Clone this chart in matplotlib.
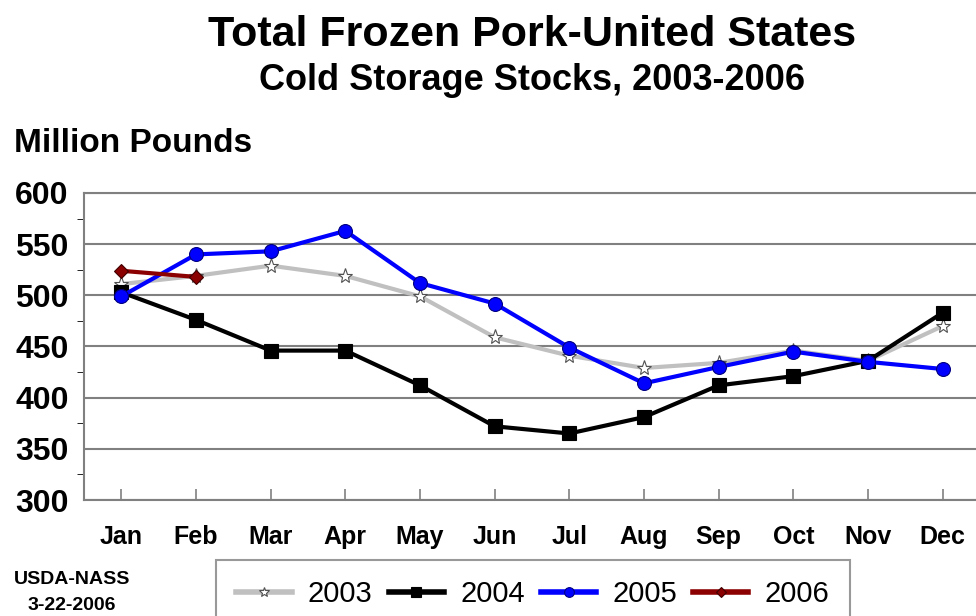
import matplotlib
matplotlib.use('Agg')
import matplotlib.pyplot as plt
from matplotlib.lines import Line2D
from matplotlib.ticker import MultipleLocator

plt.rcParams['font.family'] = ['Liberation Sans', 'DejaVu Sans']
plt.rcParams['font.weight'] = 'bold'

months = ['Jan', 'Feb', 'Mar', 'Apr', 'May', 'Jun', 'Jul', 'Aug', 'Sep', 'Oct', 'Nov', 'Dec']
y2003 = [511, 519, 529, 519, 499, 459, 441, 429, 434, 446, 436, 470]
y2004 = [503, 476, 446, 446, 412, 372, 365, 381, 412, 421, 436, 483]
y2005 = [499, 540, 543, 563, 512, 492, 449, 414, 430, 445, 435, 428]
y2006 = [524, 518]
years = ['2003', '2004', '2005', '2006']

# style per series: (line colour, marker, size, face, edge)
styles = [
    ('#c0c0c0', '*', 11, 'white', '#505050'),
    ('black', 's', 10, 'black', 'black'),
    ('#0000ff', 'o', 10, '#0000ff', '#000080'),
    ('#8b0000', 'D', 7, '#8b0000', '#400000'),
]

fig = plt.figure(figsize=(9.76, 6.16), dpi=100)
ax = fig.add_axes([84 / 976, 1 - 500 / 616, 896 / 976, 307 / 616])

x = list(range(len(months)))
for i, ys in enumerate([y2003, y2004, y2005, y2006]):
    c, m, ms, fc, ec = styles[i]
    ax.plot(x[:len(ys)], ys, color=c, lw=3, marker=m, ms=ms, mfc=fc, mec=ec, mew=0.8, zorder=3 + i)

ax.set_xlim(-0.5, 11.5)
ax.set_ylim(300, 600)
ax.yaxis.set_major_locator(MultipleLocator(50))
ax.yaxis.set_minor_locator(MultipleLocator(25))
ax.set_xticks(x)
ax.set_xticklabels(months)
ax.grid(axis='y', color='#808080', lw=1.5)
ax.set_axisbelow(True)
for s in ax.spines.values():
    s.set_color('#808080')
    s.set_linewidth(1.5)
ax.spines['right'].set_visible(False)
ax.tick_params(axis='both', direction='in', color='#808080', width=1.2)
ax.tick_params(axis='y', which='major', length=0, labelsize=23, pad=11)
ax.tick_params(axis='y', which='minor', length=5)
ax.tick_params(axis='x', length=8, labelsize=18, pad=18)

fig.text(532 / 976, 1 - 35 / 616, 'Total Frozen Pork-United States', ha='center', va='center', fontsize=31, fontweight='bold')
fig.text(532 / 976, 1 - 80 / 616, 'Cold Storage Stocks, 2003-2006', ha='center', va='center', fontsize=26, fontweight='bold')
fig.text(14 / 976, 1 - 144 / 616, 'Million Pounds', ha='left', va='center', fontsize=24, fontweight='bold')
fig.text(72 / 976, 1 - 580 / 616, 'USDA-NASS', ha='center', va='center', fontsize=14, fontweight='bold')
fig.text(72 / 976, 1 - 605 / 616, '3-22-2006', ha='center', va='center', fontsize=14, fontweight='bold')

handles = [Line2D([], [], color=c, lw=4, marker=m, ms=ms * 0.7, mfc=fc, mec=ec, mew=0.8)
           for c, m, ms, fc, ec in styles]
leg = fig.legend(handles, years, loc='upper left', bbox_to_anchor=(216 / 976, 1 - 560 / 616), ncol=4, fontsize=21,
                 frameon=True, fancybox=False, edgecolor='#808080', handlelength=1.9,
                 columnspacing=0.55, handletextpad=0.55, borderpad=0.7, borderaxespad=0)
leg.get_frame().set_linewidth(1.5)
for t in leg.get_texts():
    t.set_fontweight('normal')

fig.savefig('out.png', dpi=100)
